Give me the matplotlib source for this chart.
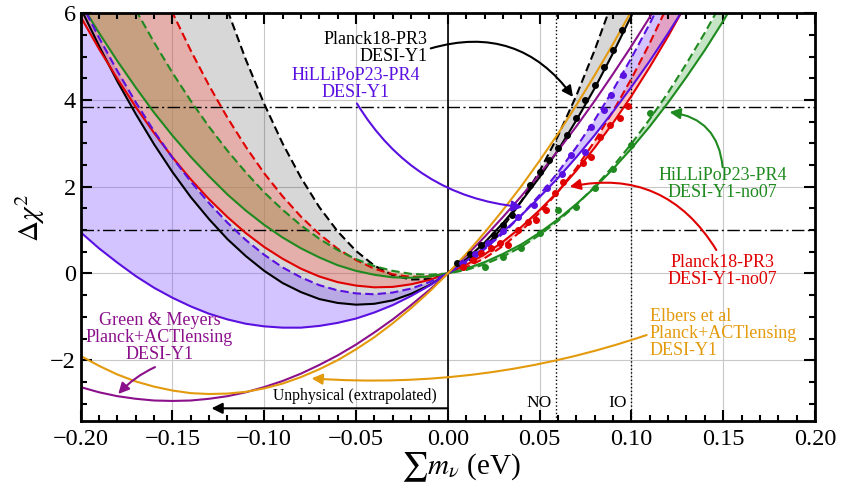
import matplotlib
matplotlib.use('Agg')
import matplotlib.pyplot as plt
from matplotlib.ticker import MultipleLocator, FuncFormatter

plt.rcParams['font.family'] = ['Liberation Serif', 'DejaVu Serif']
plt.rcParams['mathtext.fontset'] = 'stix'

# ---------------- data ----------------
mnu = [-0.20, -0.19, -0.18, -0.17, -0.16, -0.15, -0.14, -0.13, -0.12, -0.11,
       -0.10, -0.09, -0.08, -0.07, -0.06, -0.05, -0.04, -0.03, -0.02, -0.01,
       0.00, 0.01, 0.02, 0.03, 0.04, 0.05, 0.06, 0.07, 0.08, 0.09,
       0.10, 0.11, 0.12, 0.13, 0.14, 0.15, 0.16]

planck_desi_lo = [6.12, 5.25, 4.43, 3.68, 2.98, 2.34, 1.76, 1.25, 0.79, 0.40,
                  0.06, -0.22, -0.43, -0.59, -0.68, -0.72, -0.70, -0.62, -0.47, -0.27,
                  0.00, 0.33, 0.71, 1.16, 1.66, 2.22, 2.84, 3.53, 4.27, 5.08,
                  5.94, 6.87, 7.85, 8.90, 10.0, 11.17, 12.4]
planck_desi_hi = [19.32, 17.26, 15.32, 13.49, 11.77, 10.17, 8.69, 7.32, 6.07, 4.93,
                  3.91, 3.00, 2.21, 1.53, 0.97, 0.52, 0.18, -0.04, -0.14, -0.13,
                  0.00, 0.24, 0.60, 1.07, 1.66, 2.36, 3.17, 4.10, 5.15, 6.31,
                  7.59, 8.98, 10.49, 12.11, 13.85, 15.70, 17.66]
planck_no07_lo = [5.92, 5.18, 4.49, 3.84, 3.24, 2.68, 2.17, 1.71, 1.30, 0.93,
                  0.61, 0.34, 0.11, -0.07, -0.20, -0.28, -0.32, -0.31, -0.25, -0.15,
                  0.00, 0.20, 0.44, 0.73, 1.07, 1.46, 1.89, 2.37, 2.90, 3.47,
                  4.09, 4.76, 5.47, 6.23, 7.04, 7.90, 8.80]
planck_no07_hi = [11.42, 10.21, 9.06, 7.98, 6.96, 6.02, 5.14, 4.33, 3.59, 2.92,
                  2.31, 1.78, 1.31, 0.91, 0.57, 0.31, 0.11, -0.02, -0.08, -0.07,
                  0.00, 0.14, 0.35, 0.63, 0.98, 1.40, 1.88, 2.43, 3.05, 3.74,
                  4.49, 5.31, 6.20, 7.16, 8.19, 9.29, 10.45]
hlp_no07_lo = [6.24, 5.55, 4.90, 4.29, 3.71, 3.18, 2.69, 2.24, 1.82, 1.45,
               1.12, 0.83, 0.58, 0.37, 0.19, 0.06, -0.03, -0.09, -0.10, -0.07,
               0.00, 0.11, 0.26, 0.45, 0.67, 0.94, 1.25, 1.60, 1.98, 2.41,
               2.88, 3.39, 3.94, 4.53, 5.15, 5.82, 6.53]
hlp_no07_hi = [8.60, 7.71, 6.87, 6.08, 5.33, 4.63, 3.98, 3.38, 2.83, 2.33,
               1.87, 1.47, 1.11, 0.80, 0.54, 0.33, 0.17, 0.06, -0.01, -0.03,
               0.00, 0.08, 0.21, 0.39, 0.61, 0.89, 1.21, 1.58, 2.00, 2.47,
               2.99, 3.56, 4.17, 4.84, 5.55, 6.31, 7.12]
hlp_desi_hi = [6.26, 5.44, 4.67, 3.95, 3.28, 2.67, 2.12, 1.62, 1.17, 0.77,
               0.43, 0.14, -0.09, -0.27, -0.39, -0.46, -0.48, -0.44, -0.35, -0.20,
               0.00, 0.25, 0.56, 0.92, 1.34, 1.81, 2.33, 2.91, 3.54, 4.23,
               4.97, 5.76, 6.61, 7.51, 8.47, 9.48, 10.54]
hlp_desi_lo = [0.95, 0.58, 0.25, -0.06, -0.33, -0.56, -0.76, -0.93, -1.06, -1.16,
               -1.22, -1.25, -1.25, -1.21, -1.14, -1.04, -0.90, -0.73, -0.52, -0.28,
               0.00, 0.29, 0.60, 0.96, 1.34, 1.76, 2.20, 2.68, 3.19, 3.73,
               4.30, 4.90, 5.54, 6.21, 6.91, 7.64, 8.40]
green_meyers = [-2.62, -2.74, -2.83, -2.89, -2.93, -2.94, -2.93, -2.89, -2.83, -2.74,
                -2.62, -2.48, -2.31, -2.11, -1.89, -1.64, -1.36, -1.06, -0.73, -0.38,
                0.00, 0.41, 0.84, 1.30, 1.78, 2.29, 2.83, 3.39, 3.98, 4.60,
                5.24, 5.91, 6.60, 7.32, 8.07, 8.84, 9.64]
elbers = [-1.90, -2.13, -2.33, -2.49, -2.61, -2.70, -2.76, -2.78, -2.77, -2.73,
          -2.65, -2.54, -2.39, -2.21, -2.00, -1.75, -1.47, -1.15, -0.80, -0.42,
          0.00, 0.45, 0.94, 1.46, 2.01, 2.60, 3.22, 3.88, 4.57, 5.29,
          6.05, 6.84, 7.67, 8.53, 9.42, 10.35, 11.32]

# profile points
black_pts_x = [0.005, 0.012, 0.018, 0.025, 0.030, 0.035, 0.045, 0.050, 0.055, 0.060,
               0.065, 0.070, 0.075, 0.080, 0.085, 0.090, 0.095]
black_pts_y = [0.25, 0.45, 0.66, 0.88, 1.12, 1.35, 2.05, 2.35, 2.62, 2.90,
               3.20, 3.58, 4.00, 4.34, 4.77, 5.15, 5.61]
blue_pts_x = [0.008, 0.015, 0.022, 0.030, 0.038, 0.047, 0.054, 0.062, 0.067, 0.075,
              0.078, 0.085, 0.089, 0.0955]
blue_pts_y = [0.25, 0.45, 0.70, 0.98, 1.30, 1.58, 1.96, 2.30, 2.73, 2.81,
              3.38, 3.77, 4.11, 4.57]
red_pts_x = [0.0083, 0.0138, 0.0183, 0.0238, 0.0283, 0.0328, 0.0383, 0.0437, 0.0483,
             0.0537, 0.0582, 0.0628, 0.0737, 0.0782, 0.0827, 0.0882, 0.0936, 0.0982]
red_pts_y = [0.16, 0.31, 0.47, 0.58, 0.70, 0.66, 1.00, 1.19, 1.23,
             1.46, 1.85, 2.12, 2.54, 2.69, 3.15, 3.42, 3.58, 3.86]
green_pts_x = [0.02, 0.03, 0.04, 0.05, 0.06, 0.07, 0.08, 0.09, 0.10, 0.11]
green_pts_y = [0.16, 0.39, 0.58, 0.93, 1.46, 1.54, 1.96, 2.42, 2.96, 3.71]

xticks = [-0.20, -0.15, -0.10, -0.05, 0.00, 0.05, 0.10, 0.15, 0.20]
yticks = [-2, 0, 2, 4, 6]

# ---------------- style ----------------
C_BLACK = 'black'
C_RED = '#e00000'
C_GREEN = '#1f8a1f'
C_BLUE = '#5a10e0'
C_PURPLE = '#8b108b'
C_ORANGE = '#e39a0c'

fig = plt.figure(figsize=(8.54, 5.01), dpi=100)
ax = fig.add_axes([0.0944, 0.1599, 0.9543 - 0.0944, 0.9735 - 0.1599])

ax.set_xlim(-0.2, 0.2)
ax.set_ylim(-3.4, 6)

# grid
for xv in xticks:
    ax.axvline(xv, color='#c8c8c8', lw=0.8, zorder=0)
for yv in yticks:
    ax.axhline(yv, color='#c8c8c8', lw=0.8, zorder=0)

# bands
neg = [v <= 0 for v in mnu]
pos = [v >= 0 for v in mnu]
ax.fill_between(mnu, planck_desi_lo, planck_desi_hi, color='black', alpha=0.157, lw=0, zorder=1)
ax.fill_between(mnu, hlp_desi_lo, hlp_desi_hi, color='#7b4dff', alpha=0.33, lw=0, zorder=1)
ax.fill_between(mnu, planck_no07_lo, planck_no07_hi, color='#ff645a', alpha=0.35, lw=0, zorder=1)
ax.fill_between(mnu, hlp_no07_lo, hlp_no07_hi, where=neg, color='#ab9159', alpha=0.5, lw=0, zorder=1)
ax.fill_between(mnu, hlp_no07_lo, hlp_no07_hi, where=pos, color='#1f9a1f', alpha=0.25, lw=0, zorder=1)

lw = 1.5
dash = (4, 2)
ax.plot(mnu, planck_desi_lo, color=C_BLACK, lw=lw, zorder=3)
ax.plot(mnu, planck_desi_hi, color=C_BLACK, lw=lw, dashes=dash, zorder=3)
ax.plot(mnu, planck_no07_lo, color=C_RED, lw=lw, zorder=3)
ax.plot(mnu, planck_no07_hi, color=C_RED, lw=lw, dashes=dash, zorder=3)
ax.plot(mnu, hlp_no07_lo, color=C_GREEN, lw=lw, zorder=3)
ax.plot(mnu, hlp_no07_hi, color=C_GREEN, lw=lw, dashes=dash, zorder=3)
ax.plot(mnu, hlp_desi_lo, color=C_BLUE, lw=lw, zorder=3)
ax.plot(mnu, hlp_desi_hi, color=C_BLUE, lw=lw, dashes=dash, zorder=3)
ax.plot(mnu, green_meyers, color=C_PURPLE, lw=lw, zorder=3)
ax.plot(mnu, elbers, color=C_ORANGE, lw=lw, zorder=3)

ms = 4
ax.plot(black_pts_x, black_pts_y, 'o', color=C_BLACK, ms=ms, zorder=4)
ax.plot(blue_pts_x, blue_pts_y, 'o', color=C_BLUE, ms=ms, zorder=4)
ax.plot(red_pts_x, red_pts_y, 'o', color=C_RED, ms=ms, zorder=4)
ax.plot(green_pts_x, green_pts_y, 'o', color=C_GREEN, ms=ms, zorder=4)

# reference lines
ax.axhline(1.0, color='black', lw=1.0, dashes=(9, 2.5, 1.5, 2.5), zorder=2)
ax.axhline(3.84, color='black', lw=1.0, dashes=(9, 2.5, 1.5, 2.5), zorder=2)
ax.axvline(0.0, color='black', lw=1.2, zorder=2)
ax.axvline(0.059, color='black', lw=1.0, linestyle=':', zorder=2)
ax.axvline(0.10, color='black', lw=1.0, linestyle=':', zorder=2)

# annotations
fs = 13
def arrow(start, tip, color, rad):
    ax.annotate('', xy=tip, xytext=start,
                arrowprops=dict(arrowstyle='-|>', color=color, lw=1.5,
                                mutation_scale=16, shrinkA=0, shrinkB=0,
                                connectionstyle='arc3,rad=%s' % rad), zorder=5)

ax.text(-0.0109, 5.20, 'Planck18-PR3\nDESI-Y1', color=C_BLACK, fontsize=fs,
        ha='right', va='center', multialignment='right', linespacing=1.0, zorder=6)
arrow((-0.0093, 5.19), (0.0682, 4.07), C_BLACK, -0.35)

ax.text(-0.0501, 4.36, 'HiLLiPoP23-PR4\nDESI-Y1', color=C_BLUE, fontsize=fs,
        ha='center', va='center', multialignment='center', linespacing=1.0, zorder=6)
arrow((-0.0495, 3.92), (0.0408, 1.53), C_BLUE, 0.25)

ax.text(0.1497, 2.06, 'HiLLiPoP23-PR4\nDESI-Y1-no07', color=C_GREEN, fontsize=fs,
        ha='center', va='center', multialignment='center', linespacing=1.0, zorder=6)
arrow((0.1497, 2.45), (0.1208, 3.72), C_GREEN, 0.4)

ax.text(0.1494, 0.05, 'Planck18-PR3\nDESI-Y1-no07', color=C_RED, fontsize=fs,
        ha='center', va='center', multialignment='center', linespacing=1.0, zorder=6)
arrow((0.1463, 0.54), (0.0664, 2.0), C_RED, 0.35)

ax.text(-0.1570, -1.47, 'Green & Meyers\nPlanck+ACTlensing\nDESI-Y1', color=C_PURPLE,
        fontsize=fs, ha='center', va='center', multialignment='center',
        linespacing=1.0, zorder=6)
arrow((-0.1595, -2.16), (-0.1795, -2.78), C_PURPLE, 0.1)

ax.text(0.110, -1.375, 'Elbers et al\nPlanck+ACTlensing\nDESI-Y1', color=C_ORANGE,
        fontsize=fs, ha='left', va='center', multialignment='left',
        linespacing=1.0, zorder=6)
arrow((0.1083, -1.42), (-0.0742, -2.42), C_ORANGE, -0.1)

ax.text(-0.006, -2.82, 'Unphysical (extrapolated)', color='black', fontsize=11.3,
        ha='right', va='center', zorder=6)
arrow((0.0, -3.11), (-0.1287, -3.11), 'black', 0.0)

ax.text(0.0566, -2.99, 'NO', fontsize=12.5, ha='right', va='center', zorder=6)
ax.text(0.0974, -2.99, 'IO', fontsize=12.5, ha='right', va='center', zorder=6)

# axes styling
ax.set_xticks(xticks)
ax.set_yticks(yticks)
ax.xaxis.set_minor_locator(MultipleLocator(0.01))
ax.yaxis.set_minor_locator(MultipleLocator(0.5))
ax.xaxis.set_major_formatter(FuncFormatter(lambda v, p: ('%.2f' % v).replace('-', '\u2212')))
ax.yaxis.set_major_formatter(FuncFormatter(lambda v, p: ('%d' % round(v)).replace('-', '\u2212')))
ax.tick_params(which='both', direction='in', top=True, right=True, labelsize=17.5, width=1.5)
ax.tick_params(which='major', length=8)
ax.tick_params(which='minor', length=4)
ax.tick_params(axis='x', pad=6)
for s in ax.spines.values():
    s.set_linewidth(2)
    s.set_zorder(7)

fig.text(30 / 854, 1 - 218 / 501, r'$\Delta\chi^2$', fontsize=21, rotation=90,
         ha='center', va='center')
fig.text(461 / 854, 1 - 467 / 501, r'$\sum m_\nu$ (eV)', fontsize=21,
         ha='center', va='center')

fig.savefig('out.png', dpi=100)
